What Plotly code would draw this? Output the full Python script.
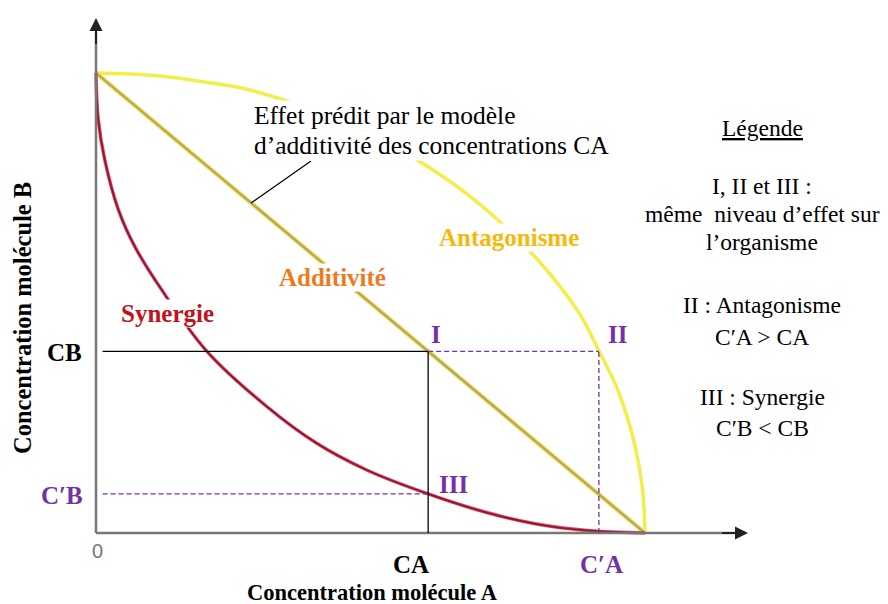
import plotly.graph_objects as go

# isobologramme : concentrations normalisées (1 = dose seule donnant l'effet)
add_x = [0, 1]
add_y = [1, 0]

antag_x = [0, 0.1, 0.2, 0.28, 0.4, 0.5, 0.6, 0.7, 0.8, 0.88, 0.916, 0.95, 0.98, 0.995, 1.0]
antag_y = [1, 0.995, 0.98, 0.963, 0.917, 0.866, 0.8, 0.714, 0.6, 0.478, 0.396, 0.312, 0.199, 0.1, 0]

syn_x = [0, 0.004, 0.016, 0.041, 0.071, 0.12, 0.202, 0.311, 0.402, 0.493, 0.605, 0.71, 0.8, 0.9, 1.0]
syn_y = [1, 0.9, 0.811, 0.702, 0.622, 0.528, 0.395, 0.275, 0.195, 0.137, 0.085, 0.045, 0.02, 0.005, 0]

CA = 0.605
CB = 0.395
CA_prime = 0.916
CB_prime = 0.085

# la page a une marge de 8 px : la figure commence à (8, 8) à l'écran
OFF = 8
W, H = 880, 596
X0, Y0, SX, SY = 96, 533, 549, 460  # origine et échelle en pixels écran


def px(x, y):
    return (x - X0) / SX, (Y0 - y) / SY


serif = 'Liberation Serif'
purple = '#7431a6'

fig = go.Figure()

fig.add_trace(go.Scatter(x=antag_x, y=antag_y, mode='lines', line_shape='spline',
                         line=dict(color='#f2ee4a', width=3.5), hoverinfo='skip'))
fig.add_trace(go.Scatter(x=add_x, y=add_y, mode='lines',
                         line=dict(color='#e9df5a', width=4.5), hoverinfo='skip'))
fig.add_trace(go.Scatter(x=add_x, y=add_y, mode='lines',
                         line=dict(color='#b7a15c', width=2), hoverinfo='skip'))
fig.add_trace(go.Scatter(x=syn_x, y=syn_y, mode='lines', line_shape='spline',
                         line=dict(color='#e0506a', width=3.5), hoverinfo='skip'))
fig.add_trace(go.Scatter(x=syn_x, y=syn_y, mode='lines', line_shape='spline',
                         line=dict(color='#8e1732', width=1.8), hoverinfo='skip'))

shapes = []
# axes
x_end = px(748, 0)[0]
y_end = px(0, 18)[1]
shapes.append(dict(type='line', x0=0, y0=0, x1=x_end - 0.02, y1=0, line=dict(color='#777', width=2.5)))
shapes.append(dict(type='line', x0=0, y0=0, x1=0, y1=y_end - 0.03, line=dict(color='#777', width=2.5)))
# repères CA / CB
shapes.append(dict(type='line', x0=0.012, y0=CB, x1=CA, y1=CB, line=dict(color='black', width=1.3)))
shapes.append(dict(type='line', x0=CA, y0=0, x1=CA, y1=CB, line=dict(color='black', width=1.3)))
dash = dict(color=purple, width=1.3, dash='5px,3px')
shapes.append(dict(type='line', x0=CA, y0=CB, x1=CA_prime, y1=CB, line=dash))
shapes.append(dict(type='line', x0=CA_prime, y0=0, x1=CA_prime, y1=CB, line=dash))
shapes.append(dict(type='line', x0=0.012, y0=CB_prime, x1=CA, y1=CB_prime, line=dash))
# trait vers l'annotation
lx0, ly0 = px(311, 161)
lx1, ly1 = px(251, 203)
shapes.append(dict(type='line', x0=lx0, y0=ly0, x1=lx1, y1=ly1, line=dict(color='black', width=1.2)))

ann = []
# pointes de flèches des axes
ann.append(dict(x=x_end, y=0, ax=x_end - 0.05, ay=0, axref='x', ayref='y', text='', showarrow=True,
                arrowhead=2, arrowsize=1.3, arrowwidth=2, arrowcolor='#222'))
ann.append(dict(x=0, y=y_end, ax=0, ay=y_end - 0.06, axref='x', ayref='y', text='', showarrow=True,
                arrowhead=2, arrowsize=1.3, arrowwidth=2, arrowcolor='#222'))


def label(x, y, text, size, color='black', bold=True, bg=None, family=serif, angle=0, xanchor='center'):
    dx, dy = px(x, y)
    ann.append(dict(x=dx, y=dy, text=f'<b>{text}</b>' if bold else text, showarrow=False,
                    font=dict(family=family, size=size, color=color), xanchor=xanchor, yanchor='middle',
                    bgcolor=bg, textangle=angle, borderpad=0))


label(22, 318, 'Concentration molécule B', 24.5, angle=-90)
label(372, 592, 'Concentration molécule A', 22.5)
label(64, 352, 'CB', 25)
label(62, 495, 'C′B', 25, color=purple)
label(97, 551, '0', 20, color='#777', bold=False, family='Liberation Sans')
label(411, 564, 'CA', 25)
label(601, 564, 'C′A', 25, color=purple)
label(436, 334, 'I', 25, color=purple)
label(617, 334, 'II', 25, color=purple)
label(453, 484, 'III', 25, color=purple)
label(167, 313, 'Synergie', 25, color='#c0121e', bg='white')
label(332, 277, 'Additivité', 25, color='#ee7a1e', bg='white')
label(509, 237, 'Antagonisme', 25, color='#f6b80c', bg='white')
label(253, 115, 'Effet prédit par le modèle', 25.5, bold=False, bg='white', xanchor='left')
label(253, 145, 'd’additivité des concentrations CA', 25.5, bold=False, bg='white', xanchor='left')

legend_lines = [(128, '<u>Légende</u>'), (186, 'I, II et III :'), (214, 'même  niveau d’effet sur'),
                (242, 'l’organisme'), (305, 'II : Antagonisme'), (337, 'C′A > CA'),
                (397, 'III : Synergie'), (428, 'C′B < CB')]
for yy, t in legend_lines:
    label(762, yy, t, 23.5, bold=False)

fig.update_layout(
    width=W, height=H, autosize=False,
    margin=dict(l=0, r=0, t=0, b=0),
    paper_bgcolor='white', plot_bgcolor='white',
    showlegend=False,
    xaxis=dict(range=[px(OFF, 0)[0], px(OFF + W, 0)[0]], visible=False, fixedrange=True),
    yaxis=dict(range=[px(0, OFF + H)[1], px(0, OFF)[1]], visible=False, fixedrange=True),
    shapes=shapes, annotations=ann,
)

fig.write_html('out.html')
